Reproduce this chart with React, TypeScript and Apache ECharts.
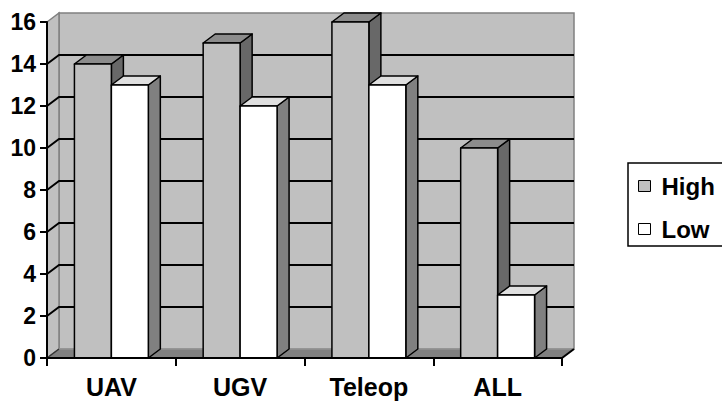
import React, { useEffect, useRef } from 'react';
import * as echarts from 'echarts';

const categories = ['UAV', 'UGV', 'Teleop', 'ALL'];
const highValues = [14, 15, 16, 10];
const lowValues = [13, 12, 13, 3];
const seriesNames = ['High', 'Low'];
const yMax = 16;
const yStep = 2;

// pseudo-3D depth offset (pixels) and bar width as a fraction of a category band
const DX = 12;
const DY = -9;
const BAR_FRAC = 0.287;
const FONT = 'Arial, "Liberation Sans", Helvetica, sans-serif';

const faceColors = [
  { front: '#c0c0c0', top: '#8c8c8c', side: '#686868' },
  { front: '#ffffff', top: '#e0e0e0', side: '#808080' },
];

function wallRender(_params: any, api: any) {
  const band = api.size([1, 0])[0];
  const x0 = api.coord([0, 0])[0] - band / 2;
  const x1 = api.coord([categories.length - 1, 0])[0] + band / 2;
  const yv = (v: number) => api.coord([0, v])[1];
  const y0 = yv(0);
  const yt = yv(yMax);
  const children: any[] = [];
  children.push({
    type: 'rect',
    shape: { x: x0 + DX, y: yt + DY, width: x1 - x0, height: y0 - yt },
    style: { fill: '#c0c0c0', stroke: '#808080', lineWidth: 1.5 },
  });
  children.push({
    type: 'polygon',
    shape: { points: [[x0, yt], [x0 + DX, yt + DY], [x0 + DX, y0 + DY], [x0, y0]] },
    style: { fill: '#c0c0c0', stroke: '#808080', lineWidth: 1.5 },
  });
  children.push({
    type: 'polygon',
    shape: { points: [[x0, y0], [x1, y0], [x1 + DX, y0 + DY], [x0 + DX, y0 + DY]] },
    style: { fill: '#808080', stroke: '#9a9a9a', lineWidth: 1 },
  });
  for (let v = yStep; v < yMax; v += yStep) {
    const y = yv(v);
    children.push({
      type: 'polyline',
      shape: { points: [[x0, y], [x0 + DX, y + DY], [x1 + DX, y + DY]] },
      style: { stroke: '#000', lineWidth: 2, fill: null },
    });
  }
  children.push({
    type: 'line',
    shape: { x1: x0, y1: y0, x2: x0 + DX, y2: y0 + DY },
    style: { stroke: '#333', lineWidth: 1.5 },
  });
  children.push({
    type: 'line',
    shape: { x1: x1, y1: y0, x2: x1 + DX, y2: y0 + DY },
    style: { stroke: '#000', lineWidth: 2 },
  });
  return { type: 'group', children };
}

function makeBarRender(slot: number) {
  const c = faceColors[slot];
  return (_params: any, api: any) => {
    const cat = api.value(0);
    const val = api.value(1);
    const band = api.size([1, 0])[0];
    const w = band * BAR_FRAC;
    const [cx, yt] = api.coord([cat, val]);
    const y0 = api.coord([cat, 0])[1];
    const xl = slot === 0 ? cx - w : cx;
    const xr = xl + w;
    const stroke = { stroke: '#000', lineWidth: 1.5, lineJoin: 'round' };
    return {
      type: 'group',
      children: [
        {
          type: 'polygon',
          shape: { points: [[xr, yt], [xr + DX, yt + DY], [xr + DX, y0 + DY], [xr, y0]] },
          style: { fill: c.side, ...stroke },
        },
        {
          type: 'polygon',
          shape: { points: [[xl, yt], [xr, yt], [xr + DX, yt + DY], [xl + DX, yt + DY]] },
          style: { fill: c.top, ...stroke },
        },
        {
          type: 'rect',
          shape: { x: xl, y: yt, width: w, height: y0 - yt },
          style: { fill: c.front, ...stroke },
        },
      ],
    };
  };
}

export default function App() {
  const ref = useRef<HTMLDivElement>(null);

  useEffect(() => {
    if (!ref.current) return;
    const chart = echarts.init(ref.current, null, { renderer: 'svg' });
    const valueSets = [highValues, lowValues];
    chart.setOption({
      animation: false,
      backgroundColor: '#ffffff',
      textStyle: { fontFamily: FONT },
      grid: { left: 47, top: 22, width: 515, height: 336, containLabel: false },
      xAxis: {
        type: 'category',
        data: categories,
        z: 10,
        axisLine: { lineStyle: { color: '#000', width: 2 } },
        axisTick: { show: true, length: 8, lineStyle: { color: '#000', width: 2 } },
        axisLabel: { fontSize: 25, fontWeight: 'bold', color: '#000', margin: 16, fontFamily: FONT },
        splitLine: { show: false },
      },
      yAxis: {
        type: 'value',
        min: 0,
        max: yMax,
        interval: yStep,
        z: 10,
        axisLine: { show: true, lineStyle: { color: '#000', width: 2 } },
        axisTick: { show: true, length: 7, lineStyle: { color: '#000', width: 2 } },
        axisLabel: { fontSize: 23, fontWeight: 'bold', color: '#000', margin: 11, fontFamily: FONT },
        splitLine: { show: false },
      },
      // legend frame runs past the right edge of the canvas
      graphic: [
        {
          type: 'rect',
          z: 0,
          shape: { x: 628, y: 163, width: 140, height: 83 },
          style: { fill: '#ffffff', stroke: '#000', lineWidth: 1.5 },
        },
      ],
      legend: {
        orient: 'vertical',
        left: 628,
        top: 163,
        padding: [11, 10, 6, 10],
        itemGap: 19,
        itemWidth: 12,
        itemHeight: 11,
        borderWidth: 0,
        icon: 'rect',
        z: 5,
        textStyle: { fontSize: 24, fontWeight: 'bold', color: '#000', fontFamily: FONT, padding: [0, 0, 0, 6] },
        data: seriesNames.map((n, i) => ({
          name: n,
          itemStyle: { color: faceColors[i].front, borderColor: '#000', borderWidth: 1 },
        })),
      },
      series: [
        {
          type: 'custom',
          name: 'wall',
          z: 1,
          silent: true,
          clip: false,
          renderItem: wallRender,
          data: [[0, 0]],
        },
        ...seriesNames.map((name, i) => ({
          type: 'custom',
          name,
          z: 2 + i,
          clip: false,
          itemStyle: { color: faceColors[i].front },
          renderItem: makeBarRender(i),
          data: valueSets[i].map((v, k) => [k, v]),
        })),
      ],
    });
    return () => chart.dispose();
  }, []);

  return (
    <div
      ref={ref}
      style={{ position: 'fixed', left: 0, top: 0, width: 722, height: 403 }}
    />
  );
}
